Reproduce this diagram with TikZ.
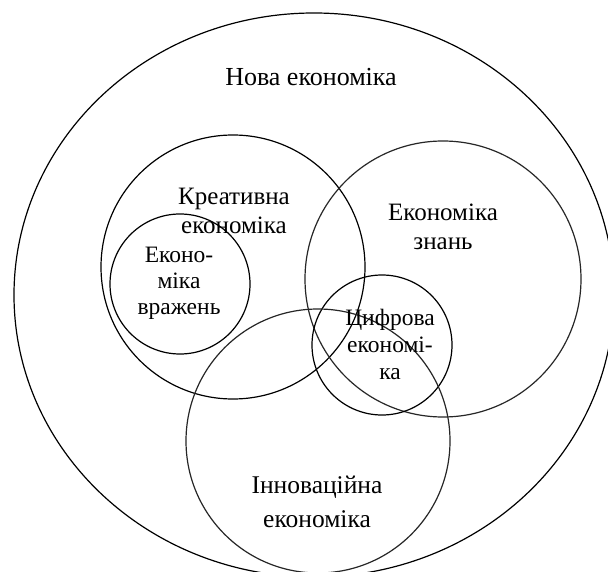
\documentclass[tikz,border=0pt]{standalone}
\usepackage{fontspec}
\setmainfont{Liberation Serif}
\usetikzlibrary{shapes.geometric}
\begin{document}
\begin{tikzpicture}[x=1pt,y=-1pt,
  ring/.style={draw, line width=1.2pt, inner sep=0pt, outer sep=0pt},
  greyring/.style={ring, draw=black!85},
  lab/.style={align=center, inner sep=0pt}]
\useasboundingbox (0,0) rectangle (608,572);
\clip (0,0) rectangle (608,572);
\fill[white] (0,0) rectangle (608,572);
\node[ring, ellipse, minimum width=600pt, minimum height=564pt] (nova) at (314,295) {};
\node[ring, circle, minimum size=264pt] (creat) at (233,267) {};
\node[greyring, circle, minimum size=276pt] (know) at (443,279) {};
\node[ring, circle, minimum size=140pt] (imp) at (180,284) {};
\node[ring, circle, minimum size=140pt] (dig) at (382,345) {};
\node[greyring, circle, minimum size=264pt] (inno) at (318,441) {};
\node[lab, font=\fontsize{26}{30}\selectfont, anchor=base] (tnova) at (311,86) {Нова економіка};
\node[lab, font=\fontsize{25}{28.5}\selectfont] (tcreat) at (234,211) {Креативна\\економіка};
\node[lab, font=\fontsize{23.5}{26}\selectfont] (timp) at (179,283) {Еконо-\\міка\\вражень};
\node[lab, font=\fontsize{25}{28.5}\selectfont] (tknow) at (443,227) {Економіка\\знань};
\node[lab, font=\fontsize{23.5}{27}\selectfont] (tdig) at (390,344) {Цифрова\\економі-\\ка};
\node[lab, font=\fontsize{25.5}{34}\selectfont] (tinno) at (317,502) {Інноваційна\\економіка};
\end{tikzpicture}
\end{document}
